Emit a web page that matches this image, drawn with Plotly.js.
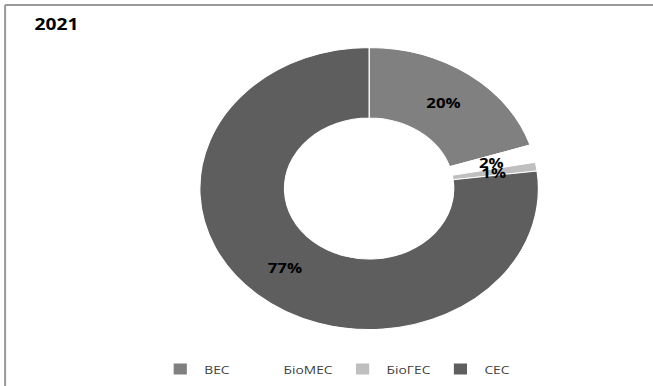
<!DOCTYPE html>
<html>
<head>
<meta charset="utf-8">
<script src="https://cdn.plot.ly/plotly-3.0.1.min.js"></script>
<style>
  html, body { margin: 0; padding: 0; background: #ffffff; overflow: hidden; }
  /* the chart is laid out narrower and widened horizontally, giving the oval ring */
  #chart { width: 544px; height: 386px; transform: scaleX(1.2004); transform-origin: 0 0; }
</style>
</head>
<body>
<div id="chart"></div>
<script>
// Generation mix, 2021 (share, %)
const categories = ['ВЕС', 'БіоМЕС', 'БіоГЕС', 'СЕС'];
const shares = [20, 2, 1, 77];
const sliceColors = ['#808080', '#ffffff', '#bfbfbf', '#5e5e5e'];
const chartTitle = '2021';

const W = 544, H = 386;
const domainX = [0.306, 0.8245];
const domainY = [0.145, 0.878];
const holeFrac = 0.5;
const smallShare = 5; // slices below this get their label set in the middle of the ring
const labelFont = { family: 'Open Sans, sans-serif', size: 14, weight: 'bold', color: '#000000' };

const total = shares.reduce((a, b) => a + b, 0);
const pctText = shares.map(v => Math.round(v / total * 100) + '%');

// ring labels for the thin slices, placed on each slice's mid-angle at mid-ring radius
const cxPx = (domainX[0] + domainX[1]) / 2 * W;
const cyPx = (domainY[0] + domainY[1]) / 2 * H;
const rPx = Math.min((domainX[1] - domainX[0]) * W, (domainY[1] - domainY[0]) * H) / 2;
const rMid = rPx * (1 + holeFrac) / 2;
const ringLabels = [];
let cum = 0;
shares.forEach((v, i) => {
  const mid = (cum + v / 2) / total * 2 * Math.PI;
  cum += v;
  if (v < smallShare) {
    ringLabels.push({
      xref: 'paper', yref: 'paper',
      x: (cxPx + rMid * Math.sin(mid)) / W,
      y: (cyPx + rMid * Math.cos(mid)) / H,
      xanchor: 'center', yanchor: 'middle',
      text: pctText[i], showarrow: false, font: labelFont
    });
  }
});

const trace = {
  type: 'pie',
  labels: categories,
  values: shares,
  sort: false,
  direction: 'clockwise',
  rotation: 0,
  hole: holeFrac,
  marker: { colors: sliceColors, line: { color: '#ffffff', width: 1 } },
  text: shares.map((v, i) => v < smallShare ? '' : pctText[i]),
  textinfo: 'text',
  textposition: 'inside',
  insidetextorientation: 'horizontal',
  insidetextfont: labelFont,
  hoverinfo: 'none',
  domain: { x: domainX, y: domainY }
};

const layout = {
  width: W,
  height: H,
  margin: { l: 0, r: 0, t: 0, b: 0 },
  paper_bgcolor: '#ffffff',
  font: { family: 'Open Sans, sans-serif', color: '#404040' },
  title: {
    text: chartTitle,
    font: { family: 'Open Sans, sans-serif', size: 16, weight: 'bold', color: '#000000' },
    xref: 'container', yref: 'container',
    x: 0.053, xanchor: 'left',
    y: 0.938, yanchor: 'middle'
  },
  showlegend: true,
  legend: {
    orientation: 'h',
    x: 0.515, xanchor: 'center',
    y: 0.044, yanchor: 'middle',
    font: { family: 'Open Sans, sans-serif', size: 11.5, color: '#404040' },
    itemwidth: 30,
    bgcolor: 'rgba(0,0,0,0)'
  },
  annotations: ringLabels,
  shapes: [
    { type: 'line', xref: 'paper', yref: 'paper', x0: 0.0078, x1: 1, y0: 0.987, y1: 0.987,
      line: { color: '#9a9a9a', width: 2 } },
    { type: 'line', xref: 'paper', yref: 'paper', x0: 0.0078, x1: 0.0078, y0: 0, y1: 0.987,
      line: { color: '#9a9a9a', width: 1.7 } }
  ]
};

Plotly.newPlot('chart', [trace], layout, { staticPlot: true, displayModeBar: false });
</script>
</body>
</html>
